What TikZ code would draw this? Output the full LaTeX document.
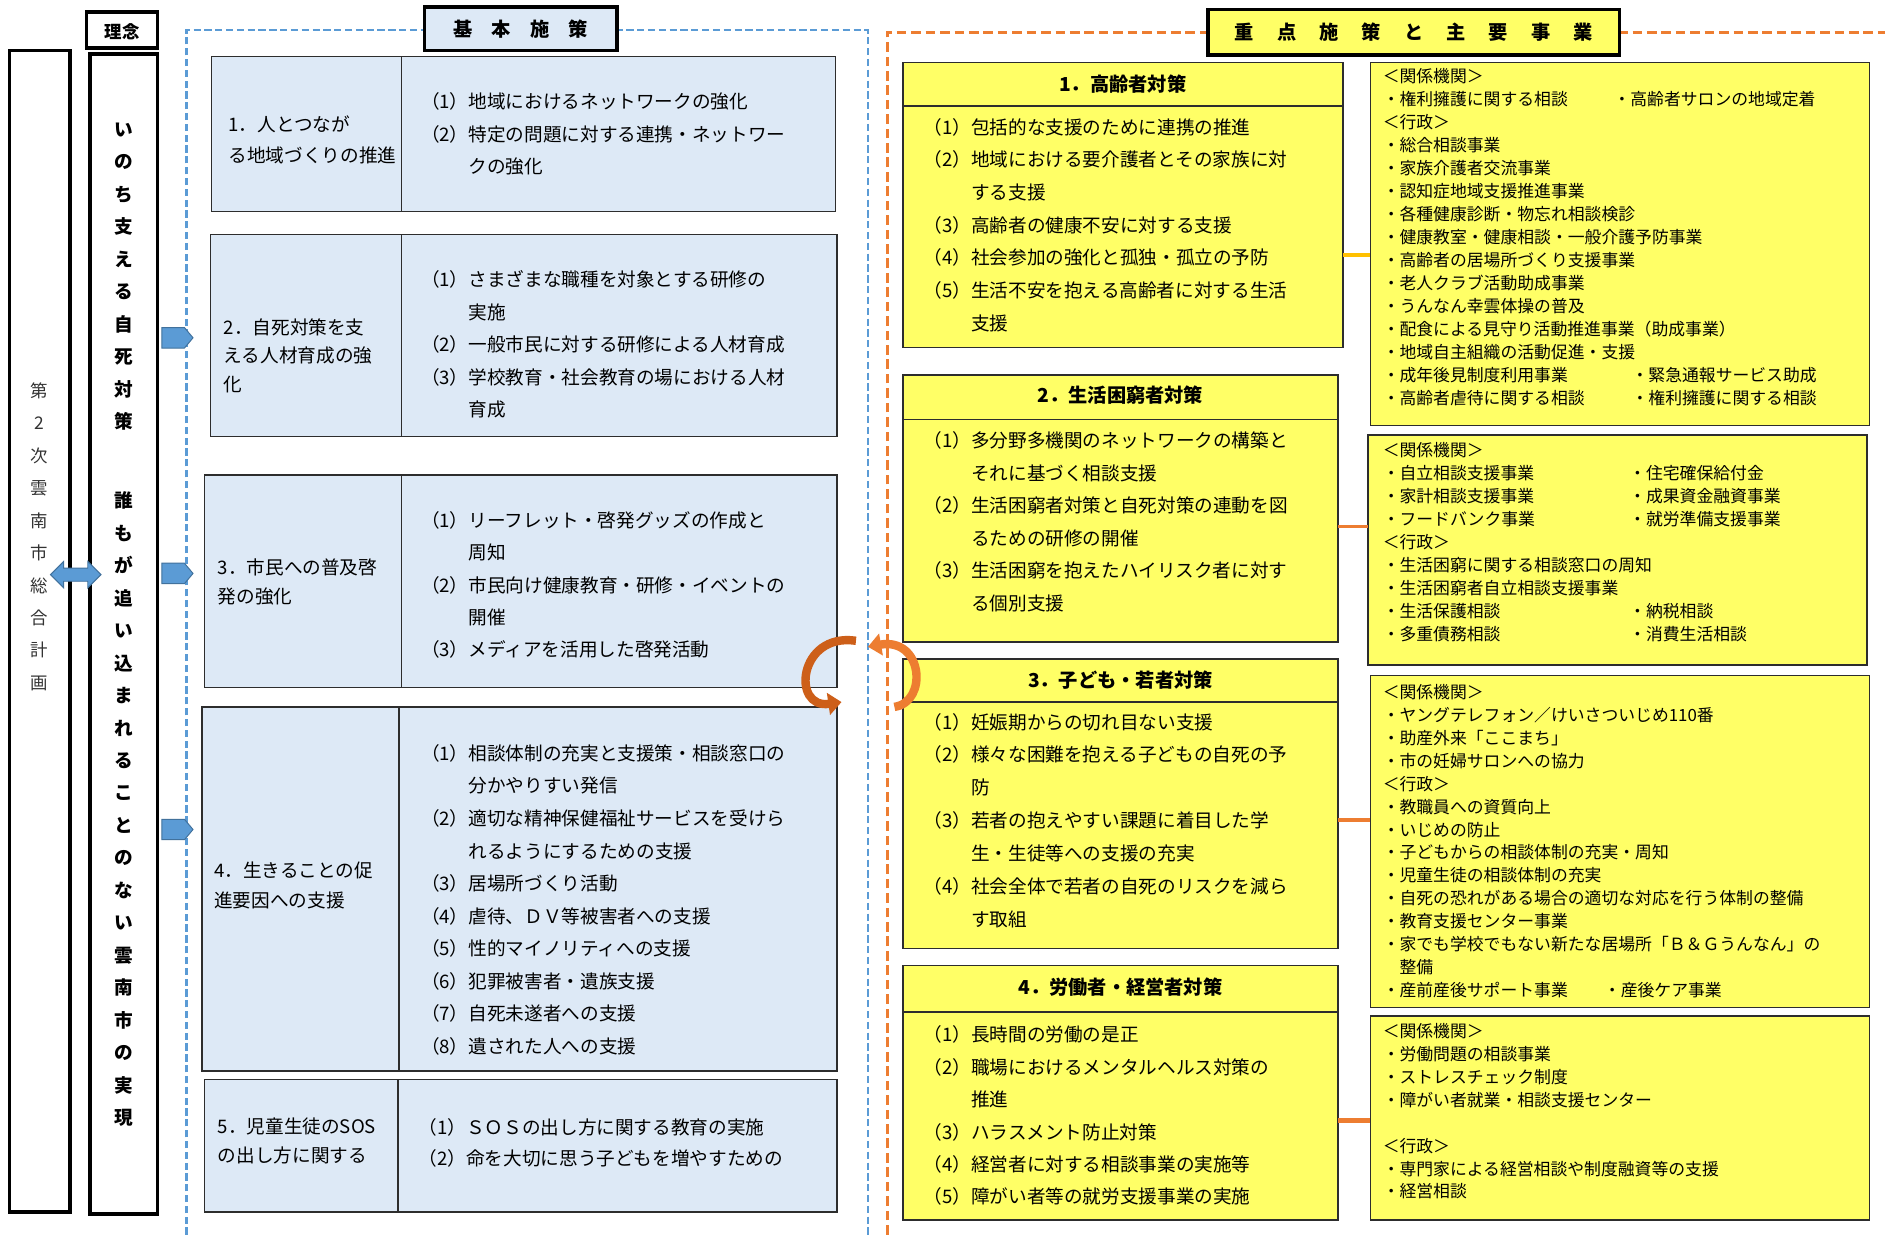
\documentclass[tikz,border=0pt]{standalone}
\usepackage{fontspec}
\setmainfont{Noto Sans CJK JP}
\usetikzlibrary{shapes.arrows,shapes.symbols,arrows.meta}
\definecolor{lb}{RGB}{221,233,246}
\definecolor{yl}{RGB}{255,255,102}
\definecolor{bl}{RGB}{91,155,213}
\definecolor{blD}{RGB}{65,113,156}
\definecolor{og}{RGB}{237,125,49}
\definecolor{ogD}{RGB}{205,95,25}
\definecolor{gd}{RGB}{255,192,0}
\definecolor{bd}{RGB}{45,45,45}
\newcommand\myind{\phantom{（1）}}
\newcommand\colA[2]{\makebox[#1pt][l]{#2}}
\begin{document}
\begin{tikzpicture}[x=1pt,y=-1pt,
  box/.style={draw=bd,line width=1.4pt,anchor=north west,inner sep=0pt,outer sep=0pt},
  mbox/.style={box,fill=lb},
  ybox/.style={box,fill=yl},
  tbox/.style={draw=black,line width=3pt,anchor=north west,inner sep=0pt,outer sep=0pt},
  txt/.style={anchor=north west,inner sep=0pt,align=left,font=\fontsize{15.5}{27}\selectfont},
  stxt/.style={anchor=north west,inner sep=0pt,align=left,font=\fontsize{14}{19.08}\selectfont},
  hd/.style={inner sep=0pt,font=\fontsize{16}{16}\selectfont\bfseries},
  sig/.style={signal,signal to=east,signal pointer angle=100,fill=bl,draw=blD,line width=0.8pt,minimum width=26pt,minimum height=17pt,inner sep=0pt},
  conn/.style={line width=3pt},
  rarc/.style={line width=7pt,-{Triangle[length=11pt,width=18pt]}}
]
\useasboundingbox (0,0) rectangle (1568,1027);
\fill[white] (0,0) rectangle (1568,1027);

% dashed frames
\draw[bl,line width=2pt,dash pattern=on 6pt off 3pt] (155,1027) -- (155,25) -- (722,25) -- (722,1027);
\draw[og,line width=2.5pt,dash pattern=on 8pt off 4pt] (738,1027) -- (738,27) -- (1568,27);

% left columns
\node[tbox,minimum width=50pt,minimum height=966pt] (L) at (8,42) {};
\node[tbox,minimum width=56pt,minimum height=965pt] (V) at (75,45) {};
\node[tbox,minimum width=59pt,minimum height=30pt] (RN) at (72,10) {};
\node[inner sep=0pt,font=\fontsize{14.5}{14.5}\selectfont\bfseries] (RNt) at (101.5,26) {理念};
\node[inner sep=0pt,anchor=north,align=center,text=black!80,font=\fontsize{14.5}{27}\selectfont] (Lt) at (33,318) {第\\2\\次\\雲\\南\\市\\総\\合\\計\\画};
\node[inner sep=0pt,anchor=north,align=center,font=\fontsize{15.5}{27}\selectfont\bfseries] (Vt) at (103,102) {い\\の\\ち\\支\\え\\る\\自\\死\\対\\策\\[39pt]誰\\も\\が\\追\\い\\込\\ま\\れ\\る\\こ\\と\\の\\な\\い\\雲\\南\\市\\の\\実\\現};

% arrows on the left
\fill[bl,draw=blD,line width=0.8pt] (42,478) -- (53,467) -- (53,472.5) -- (73,472.5) -- (73,467) -- (84,478) -- (73,489) -- (73,483.5) -- (53,483.5) -- (53,489) -- cycle;
\node[sig] (S1) at (144,281) {};
\node[sig] (S2) at (144,477) {};
\node[sig] (S3) at (144,690) {};

% title boxes
\node[tbox,fill=lb,minimum width=160pt,minimum height=36pt] (T1) at (353,6) {};
\node[hd] (T1t) at (T1.center) {基\hspace{1em}本\hspace{1em}施\hspace{1em}策};
\node[tbox,fill=yl,minimum width=342pt,minimum height=38pt] (T2) at (1005,8) {};
\node[hd] (T2t) at (T2.center) {重\hspace{1.2em}点\hspace{1.2em}施\hspace{1.2em}策\hspace{1.2em}と\hspace{1.2em}主\hspace{1.2em}要\hspace{1.2em}事\hspace{1.2em}業};

% middle boxes
\node[mbox,minimum width=519pt,minimum height=129pt] (B1) at (176,47) {};
\node[mbox,minimum width=521pt,minimum height=168pt] (B2) at (175,195) {};
\node[mbox,minimum width=526pt,minimum height=177pt] (B3) at (170,395) {};
\node[mbox,minimum width=528pt,minimum height=303pt] (B4) at (168,588) {};
\node[mbox,minimum width=526pt,minimum height=110pt] (B5) at (170,898) {};
\draw[bd,line width=1.4pt] (B1.north -| 334,0) -- (B1.south -| 334,0);
\draw[bd,line width=1.4pt] (B2.north -| 334,0) -- (B2.south -| 334,0);
\draw[bd,line width=1.4pt] (B3.north -| 334,0) -- (B3.south -| 334,0);
\draw[bd,line width=1.4pt] (B4.north -| 332,0) -- (B4.south -| 332,0);
\draw[bd,line width=1.4pt] (B5.north -| 331,0) -- (B5.south -| 331,0);

\node[txt,font=\fontsize{15.5}{26}\selectfont] (B1l) at (190,96) {1．人とつなが\\る地域づくりの推進};
\node[txt] (B1r) at (350,77) {（1）地域におけるネットワークの強化\\（2）特定の問題に対する連携・ネットワー\\\myind クの強化};
\node[txt,font=\fontsize{15.5}{23.5}\selectfont] (B2l) at (186,265) {2．自死対策を支\\える人材育成の強\\化};
\node[txt] (B2r) at (350,225) {（1）さまざまな職種を対象とする研修の\\\myind 実施\\（2）一般市民に対する研修による人材育成\\（3）学校教育・社会教育の場における人材\\\myind 育成};
\node[txt,font=\fontsize{15.5}{24}\selectfont] (B3l) at (181,465) {3．市民への普及啓\\発の強化};
\node[txt] (B3r) at (350,425) {（1）リーフレット・啓発グッズの作成と\\\myind 周知\\（2）市民向け健康教育・研修・イベントの\\\myind 開催\\（3）メディアを活用した啓発活動};
\node[txt,font=\fontsize{15.5}{25}\selectfont] (B4l) at (178,717) {4．生きることの促\\進要因への支援};
\node[txt,font=\fontsize{15.5}{27.1}\selectfont] (B4r) at (350,619) {（1）相談体制の充実と支援策・相談窓口の\\\myind 分かやりすい発信\\（2）適切な精神保健福祉サービスを受けら\\\myind れるようにするための支援\\（3）居場所づくり活動\\（4）虐待、ＤＶ等被害者への支援\\（5）性的マイノリティへの支援\\（6）犯罪被害者・遺族支援\\（7）自死未遂者への支援\\（8）遺された人への支援};
\node[txt,font=\fontsize{15.5}{24}\selectfont] (B5l) at (181,930) {5．児童生徒のSOS\\の出し方に関する};
\node[txt,font=\fontsize{15.5}{26}\selectfont] (B5r) at (348,930) {（1）ＳＯＳの出し方に関する教育の実施\\（2）命を大切に思う子どもを増やすための};

% yellow boxes
\node[ybox,minimum width=366pt,minimum height=237pt] (Y1) at (751,52) {};
\node[ybox,minimum width=362pt,minimum height=222pt] (Y2) at (751,312) {};
\node[ybox,minimum width=362pt,minimum height=241pt] (Y3) at (751,548) {};
\node[ybox,minimum width=362pt,minimum height=212pt] (Y4) at (751,803) {};
\draw[bd,line width=1.4pt] (Y1.west |- 0,88) -- (Y1.east |- 0,88);
\draw[bd,line width=1.4pt] (Y2.west |- 0,349) -- (Y2.east |- 0,349);
\draw[bd,line width=1.4pt] (Y3.west |- 0,584) -- (Y3.east |- 0,584);
\draw[bd,line width=1.4pt] (Y4.west |- 0,842) -- (Y4.east |- 0,842);
\node[hd] (Y1h) at (934,70) {1．高齢者対策};
\node[hd] (Y2h) at (932,329) {2．生活困窮者対策};
\node[hd] (Y3h) at (932,566) {3．子ども・若者対策};
\node[hd] (Y4h) at (932,821) {4．労働者・経営者対策};
\node[txt,font=\fontsize{15.5}{27.2}\selectfont] (Y1t) at (768,98) {（1）包括的な支援のために連携の推進\\（2）地域における要介護者とその家族に対\\\myind する支援\\（3）高齢者の健康不安に対する支援\\（4）社会参加の強化と孤独・孤立の予防\\（5）生活不安を抱える高齢者に対する生活\\\myind 支援};
\node[txt] (Y2t) at (768,359) {（1）多分野多機関のネットワークの構築と\\\myind それに基づく相談支援\\（2）生活困窮者対策と自死対策の連動を図\\\myind るための研修の開催\\（3）生活困窮を抱えたハイリスク者に対す\\\myind る個別支援};
\node[txt,font=\fontsize{15.5}{27.3}\selectfont] (Y3t) at (768,593) {（1）妊娠期からの切れ目ない支援\\（2）様々な困難を抱える子どもの自死の予\\\myind 防\\（3）若者の抱えやすい課題に着目した学\\\myind 生・生徒等への支援の充実\\（4）社会全体で若者の自死のリスクを減ら\\\myind す取組};
\node[txt] (Y4t) at (768,853) {（1）長時間の労働の是正\\（2）職場におけるメンタルヘルス対策の\\\myind 推進\\（3）ハラスメント防止対策\\（4）経営者に対する相談事業の実施等\\（5）障がい者等の就労支援事業の実施};

% right boxes
\node[ybox,minimum width=415pt,minimum height=302pt] (R1) at (1140,52) {};
\node[ybox,minimum width=415pt,minimum height=191pt] (R2) at (1138,362) {};
\node[ybox,minimum width=415pt,minimum height=276pt] (R3) at (1140,562) {};
\node[ybox,minimum width=415pt,minimum height=170pt] (R4) at (1140,845) {};
\node[stxt] (R1t) at (1150,57) {＜関係機関＞\\\colA{192}{・権利擁護に関する相談}・高齢者サロンの地域定着\\＜行政＞\\・総合相談事業\\・家族介護者交流事業\\・認知症地域支援推進事業\\・各種健康診断・物忘れ相談検診\\・健康教室・健康相談・一般介護予防事業\\・高齢者の居場所づくり支援事業\\・老人クラブ活動助成事業\\・うんなん幸雲体操の普及\\・配食による見守り活動推進事業（助成事業）\\・地域自主組織の活動促進・支援\\\colA{207}{・成年後見制度利用事業}・緊急通報サービス助成\\\colA{207}{・高齢者虐待に関する相談}・権利擁護に関する相談};
\node[stxt] (R2t) at (1150,368) {＜関係機関＞\\\colA{205}{・自立相談支援事業}・住宅確保給付金\\\colA{205}{・家計相談支援事業}・成果資金融資事業\\\colA{205}{・フードバンク事業}・就労準備支援事業\\＜行政＞\\・生活困窮に関する相談窓口の周知\\・生活困窮者自立相談支援事業\\\colA{205}{・生活保護相談}・納税相談\\\colA{205}{・多重債務相談}・消費生活相談};
\node[stxt] (R3t) at (1150,569) {＜関係機関＞\\・ヤングテレフォン／けいさついじめ110番\\・助産外来「ここまち」\\・市の妊婦サロンへの協力\\＜行政＞\\・教職員への資質向上\\・いじめの防止\\・子どもからの相談体制の充実・周知\\・児童生徒の相談体制の充実\\・自死の恐れがある場合の適切な対応を行う体制の整備\\・教育支援センター事業\\・家でも学校でもない新たな居場所「Ｂ＆Ｇうんなん」の\\\phantom{・}整備\\\colA{184}{・産前産後サポート事業}・産後ケア事業};
\node[stxt] (R4t) at (1150,851) {＜関係機関＞\\・労働問題の相談事業\\・ストレスチェック制度\\・障がい者就業・相談支援センター\\[19.08pt]＜行政＞\\・専門家による経営相談や制度融資等の支援\\・経営相談};

% connectors
\draw[conn,gd] (Y1.east |- 0,212) -- (R1.west |- 0,212);
\draw[conn,og] (Y2.east |- 0,438) -- (R2.west |- 0,438);
\draw[conn,og] (Y3.east |- 0,682) -- (R3.west |- 0,682);
\draw[line width=4pt,og] (Y4.east |- 0,932) -- (R4.west |- 0,932);

% circular arrows (on top)
\draw[rarc,ogD] (712,533) .. controls (664,526) and (658,590) .. (700,584);
\draw[rarc,og] (744,588) .. controls (772,584) and (768,530) .. (722,538);
\end{tikzpicture}
\end{document}
